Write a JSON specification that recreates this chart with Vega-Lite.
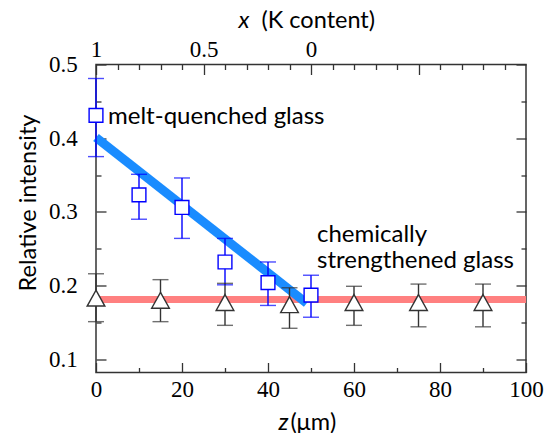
{
  "$schema": "https://vega.github.io/schema/vega-lite/v6.json",
  "width": 430,
  "height": 308,
  "autosize": {"type": "none"},
  "padding": {"left": 96, "top": 64.5, "right": 18, "bottom": 60.5},
  "background": "white",
  "config": {
    "view": {"stroke": "#333333", "strokeWidth": 1.5},
    "axis": {
      "domain": false, "grid": false,
      "tickColor": "#333333", "tickWidth": 1.3,
      "labelFont": "Liberation Serif", "labelFontSize": 23, "labelColor": "#000000",
      "labelFlush": false, "labelOverlap": false,
      "titleFont": "Lato", "titleFontSize": 23.5, "titleFontWeight": "normal", "titleColor": "#000000"
    }
  },
  "datasets": {
    "pts": [
      {"s": "melt", "z": 0, "v": 0.431, "lo": 0.375, "hi": 0.481},
      {"s": "melt", "z": 10, "v": 0.323, "lo": 0.290, "hi": 0.351},
      {"s": "melt", "z": 20, "v": 0.306, "lo": 0.264, "hi": 0.346},
      {"s": "melt", "z": 30, "v": 0.232, "lo": 0.201, "hi": 0.264},
      {"s": "melt", "z": 40, "v": 0.204, "lo": 0.173, "hi": 0.232},
      {"s": "melt", "z": 50, "v": 0.187, "lo": 0.157, "hi": 0.214},
      {"s": "chem", "z": 0, "v": 0.183, "lo": 0.151, "hi": 0.216},
      {"s": "chem", "z": 15, "v": 0.180, "lo": 0.151, "hi": 0.208},
      {"s": "chem", "z": 30, "v": 0.177, "lo": 0.146, "hi": 0.203},
      {"s": "chem", "z": 45, "v": 0.174, "lo": 0.142, "hi": 0.197},
      {"s": "chem", "z": 60, "v": 0.177, "lo": 0.146, "hi": 0.199},
      {"s": "chem", "z": 75, "v": 0.177, "lo": 0.144, "hi": 0.202},
      {"s": "chem", "z": 90, "v": 0.177, "lo": 0.144, "hi": 0.202}
    ],
    "lines": [
      {"s": "chem", "z": 0, "v": 0.181},
      {"s": "chem", "z": 100, "v": 0.181},
      {"s": "melt", "z": 0, "v": 0.401},
      {"s": "melt", "z": 49, "v": 0.176}
    ],
    "notes": [
      {"t": "melt-quenched glass", "z": 2.8, "v": 0.419},
      {"t": "chemically", "z": 51.4, "v": 0.2595},
      {"t": "strengthened glass", "z": 51.4, "v": 0.2234}
    ]
  },
  "layer": [
    {
      "data": {"name": "lines"},
      "transform": [{"filter": "datum.s == 'chem'"}],
      "mark": {"type": "line", "color": "#ff8080", "strokeWidth": 7, "strokeCap": "butt"},
      "encoding": {
        "x": {"field": "z", "type": "quantitative", "scale": {"domain": [0, 100], "nice": false, "zero": false},
          "axis": {"orient": "bottom", "values": [0, 20, 40, 60, 80, 100], "tickSize": -10, "labelPadding": 27, "labelBaseline": "middle",
            "labelFont": "Liberation Serif", "labelFontSize": 23,
            "title": "(μm)", "titleAlign": "left", "titleAnchor": "start", "titleX": 194, "titleY": 56.5, "titleBaseline": "alphabetic"}},
        "y": {"field": "v", "type": "quantitative", "scale": {"domain": [0.082, 0.5], "nice": false, "zero": false},
          "axis": {"orient": "left", "values": [0.1, 0.2, 0.3, 0.4, 0.5], "format": ".1f", "tickSize": -10, "labelPadding": 28.7,
            "labelFont": "Liberation Serif", "labelFontSize": 23,
            "title": "Relative intensity", "titleX": -61, "titleY": 138, "titleAngle": -90, "titleAlign": "center", "titleBaseline": "alphabetic"}}
      }
    },
    {
      "data": {"name": "lines"},
      "transform": [{"filter": "datum.s == 'melt'"}],
      "mark": {"type": "line", "color": "#1a8cff", "strokeWidth": 9, "strokeCap": "butt"},
      "encoding": {
        "x": {"field": "z", "type": "quantitative", "scale": {"domain": [0, 100], "nice": false, "zero": false},
          "axis": {"orient": "bottom", "values": [10, 30, 50, 70, 90], "tickSize": -5, "labels": false,
            "title": "z", "titleFontStyle": "italic", "titleAlign": "left", "titleAnchor": "start", "titleX": 182, "titleY": 56.5, "titleBaseline": "alphabetic"}},
        "y": {"field": "v", "type": "quantitative", "scale": {"domain": [0.082, 0.5], "nice": false, "zero": false},
          "axis": {"orient": "left", "values": [0.15, 0.25, 0.35, 0.45], "tickSize": -5, "labels": false, "title": null}}
      }
    },
    {
      "data": {"name": "pts"},
      "mark": {"type": "rule", "strokeWidth": 1.4},
      "encoding": {
        "x": {"field": "z", "type": "quantitative", "scale": {"domain": [0, 100], "nice": false, "zero": false},
          "axis": {"orient": "top", "values": [5, 10, 15, 20, 30, 35, 40, 45, 55, 60, 65, 70, 80, 85, 90, 95], "tickSize": -5, "labels": false,
            "title": "x", "titleFontStyle": "italic", "titleAlign": "left", "titleAnchor": "start", "titleX": 142, "titleY": -37, "titleBaseline": "alphabetic"}},
        "y": {"field": "lo", "type": "quantitative", "scale": {"domain": [0.082, 0.5], "nice": false, "zero": false},
          "axis": {"orient": "right", "values": [0.1, 0.2, 0.3, 0.4, 0.5], "tickSize": -10, "labels": false, "title": null}},
        "y2": {"field": "hi"},
        "color": {"field": "s", "type": "nominal", "scale": {"domain": ["melt", "chem"], "range": ["#0000ff", "#333333"]}, "legend": null}
      }
    },
    {
      "data": {"name": "pts"},
      "mark": {"type": "tick", "orient": "horizontal", "size": 16, "thickness": 1.4},
      "encoding": {
        "x": {"field": "z", "type": "quantitative", "scale": {"domain": [0, 100], "nice": false, "zero": false},
          "axis": {"orient": "top", "values": [0, 25, 50, 75], "tickSize": -10, "labelPadding": 25, "labelBaseline": "middle",
            "labelFont": "Liberation Serif", "labelFontSize": 23,
            "labelExpr": "datum.value == 0 ? '1' : datum.value == 25 ? '0.5' : datum.value == 50 ? '0' : ''",
            "title": "(K content)", "titleAlign": "left", "titleAnchor": "start", "titleX": 165, "titleY": -37, "titleBaseline": "alphabetic"}},
        "y": {"field": "hi", "type": "quantitative", "scale": {"domain": [0.082, 0.5], "nice": false, "zero": false},
          "axis": {"orient": "right", "values": [0.15, 0.25, 0.35, 0.45], "tickSize": -5, "labels": false, "title": null}},
        "color": {"field": "s", "type": "nominal", "scale": {"domain": ["melt", "chem"], "range": ["#0000ff", "#333333"]}, "legend": null}
      }
    },
    {
      "data": {"name": "pts"},
      "mark": {"type": "tick", "orient": "horizontal", "size": 16, "thickness": 1.4},
      "encoding": {
        "x": {"field": "z", "type": "quantitative", "scale": {"domain": [0, 100], "nice": false, "zero": false}, "axis": null},
        "y": {"field": "lo", "type": "quantitative", "scale": {"domain": [0.082, 0.5], "nice": false, "zero": false}, "axis": null},
        "color": {"field": "s", "type": "nominal", "scale": {"domain": ["melt", "chem"], "range": ["#0000ff", "#333333"]}, "legend": null}
      }
    },
    {
      "data": {"name": "pts"},
      "transform": [{"filter": "datum.s == 'melt'"}],
      "mark": {"type": "point", "shape": "square", "size": 190, "filled": false, "fill": "white", "fillOpacity": 1, "stroke": "#0000ff", "strokeWidth": 1.4, "opacity": 1},
      "encoding": {
        "x": {"field": "z", "type": "quantitative", "scale": {"domain": [0, 100], "nice": false, "zero": false}, "axis": null},
        "y": {"field": "v", "type": "quantitative", "scale": {"domain": [0.082, 0.5], "nice": false, "zero": false}, "axis": null}
      }
    },
    {
      "data": {"name": "pts"},
      "transform": [{"filter": "datum.s == 'chem'"}],
      "mark": {"type": "point", "shape": "M0,-0.9L1,0.9L-1,0.9Z", "size": 313, "filled": false, "fill": "white", "fillOpacity": 1, "stroke": "#333333", "strokeWidth": 1.4, "opacity": 1},
      "encoding": {
        "x": {"field": "z", "type": "quantitative", "scale": {"domain": [0, 100], "nice": false, "zero": false}, "axis": null},
        "y": {"field": "v", "type": "quantitative", "scale": {"domain": [0.082, 0.5], "nice": false, "zero": false}, "axis": null}
      }
    },
    {
      "data": {"name": "notes"},
      "mark": {"type": "text", "font": "Lato", "fontSize": 24, "align": "left", "baseline": "alphabetic", "color": "#000000"},
      "encoding": {
        "x": {"field": "z", "type": "quantitative", "scale": {"domain": [0, 100], "nice": false, "zero": false}, "axis": null},
        "y": {"field": "v", "type": "quantitative", "scale": {"domain": [0.082, 0.5], "nice": false, "zero": false}, "axis": null},
        "text": {"field": "t", "type": "nominal"}
      }
    }
  ],
  "resolve": {"axis": {"x": "independent", "y": "independent"}}
}
